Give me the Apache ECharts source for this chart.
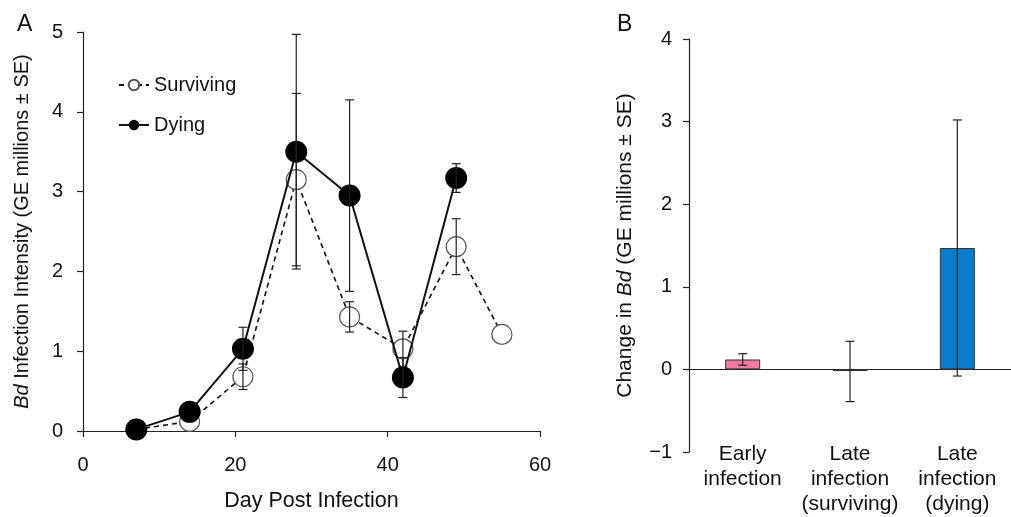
<!DOCTYPE html>
<html>
<head>
<meta charset="utf-8">
<script src="https://cdn.jsdelivr.net/npm/echarts@6/dist/echarts.min.js"></script>
<style>
	html, body { margin: 0; padding: 0; background: #fff; }
	#chart { width: 1011px; height: 517px; }
</style>
</head>
<body>
<div id="chart"></div>
<script>
	// panel A: infection intensity by day
	var days = [7, 14, 21, 28, 35, 42, 49, 55];
	var surviving = [0.02, 0.12, 0.68, 3.15, 1.43, 1.03, 2.31, 1.21];
	var survivingSE = [0, 0, 0.16, 1.08, 0.19, 0.22, 0.35, 0];
	var dyingDays = [7, 14, 21, 28, 35, 42, 49];
	var dying = [0.02, 0.24, 1.03, 3.50, 2.95, 0.67, 3.17];
	var dyingSE = [0, 0, 0.27, 1.47, 1.20, 0.25, 0.18];

	// panel B: change in Bd
	var groups = ['Early\ninfection', 'Late\ninfection\n(surviving)', 'Late\ninfection\n(dying)'];
	var change = [0.12, -0.02, 1.47];
	var changeLow = [0.05, -0.39, -0.08];
	var changeHigh = [0.19, 0.34, 3.02];
	var barColors = ['#f07aa3', '#1d6b45', '#0a7ccc'];

	var font = 'Liberation Sans, Arial, sans-serif';
	var ink = '#111';

	function pairs(xs, ys) {
		return xs.map(function(x, i) { return [x, ys[i]]; });
	}
	function errRows(xs, ys, se) {
		var out = [];
		xs.forEach(function(x, i) {
			if (se[i] > 0) out.push([x, ys[i] - se[i], ys[i] + se[i]]);
		});
		return out;
	}
	function errRender(params, api) {
		var x = api.value(0);
		var top = api.coord([x, api.value(2)]);
		var bot = api.coord([x, api.value(1)]);
		var w = 4.5;
		var st = { stroke: '#222', lineWidth: 1.2 };
		return {
			type: 'group',
			children: [
				{ type: 'line', shape: { x1: top[0], y1: top[1], x2: bot[0], y2: bot[1] }, style: st },
				{ type: 'line', shape: { x1: top[0] - w, y1: top[1], x2: top[0] + w, y2: top[1] }, style: st },
				{ type: 'line', shape: { x1: bot[0] - w, y1: bot[1], x2: bot[0] + w, y2: bot[1] }, style: st }
			]
		};
	}

	var lineSt = { color: '#222', width: 1.2 };
	var tickLabel = { fontSize: 20, color: ink, fontFamily: font };
	var italic = { fontStyle: 'italic', color: ink, fontFamily: font };

	var chart = echarts.init(document.getElementById('chart'));
	chart.setOption({
		animation: false,
		textStyle: { fontFamily: font },
		title: [
			{ text: 'A', left: 12, top: 8, textStyle: { fontSize: 23, fontWeight: 'normal', color: ink, fontFamily: font } },
			{ text: 'B', left: 612, top: 8, textStyle: { fontSize: 23, fontWeight: 'normal', color: ink, fontFamily: font } }
		],
		legend: {
			data: ['Surviving', 'Dying'],
			orient: 'vertical',
			left: 113,
			top: 70,
			itemGap: 20,
			itemWidth: 30,
			itemHeight: 13,
			textStyle: { fontSize: 20, color: ink, fontFamily: font }
		},
		grid: [
			{ left: 83, top: 32, width: 457, height: 401 },
			{ left: 689, top: 39, width: 333, height: 414 }
		],
		xAxis: [
			{
				gridIndex: 0, type: 'value', min: 0, max: 60, interval: 20,
				splitLine: { show: false },
				axisLine: { lineStyle: lineSt },
				axisTick: { length: 6, lineStyle: lineSt },
				axisLabel: Object.assign({ margin: 24 }, tickLabel),
				name: 'Day Post Infection', nameLocation: 'middle', nameGap: 59,
				nameTextStyle: { fontSize: 21.5, color: ink, fontFamily: font }
			},
			{
				gridIndex: 1, type: 'category', data: groups,
				axisLine: { onZero: true, lineStyle: lineSt },
				axisTick: { length: 6, lineStyle: lineSt },
				axisLabel: { show: false }
			},
			{
				gridIndex: 1, type: 'category', data: groups, position: 'bottom',
				axisLine: { show: false, onZero: false }, axisTick: { show: false },
				axisLabel: { interval: 0, fontSize: 21, color: ink, fontFamily: font, lineHeight: 25, margin: -10 }
			}
		],
		yAxis: [
			{
				gridIndex: 0, type: 'value', min: 0, max: 5, interval: 1,
				splitLine: { show: false },
				axisLine: { show: true, lineStyle: lineSt },
				axisTick: { show: true, length: 6, lineStyle: lineSt },
				axisLabel: Object.assign({ margin: 20 }, tickLabel),
				name: '{i|Bd} Infection Intensity (GE millions ± SE)', nameLocation: 'middle', nameGap: 51,
				nameTextStyle: {
					fontSize: 20, color: ink, fontFamily: font,
					rich: { i: Object.assign({ fontSize: 20 }, italic) }
				}
			},
			{
				gridIndex: 1, type: 'value', min: -1, max: 4, interval: 1,
				splitLine: { show: false },
				axisLine: { show: true, onZero: false, lineStyle: lineSt },
				axisTick: { show: true, length: 6, lineStyle: lineSt },
				axisLabel: Object.assign({ margin: 17, formatter: function(v) { return String(v).replace('-', '\u2212'); } }, tickLabel),
				name: 'Change in {i|Bd} (GE millions ± SE)', nameLocation: 'middle', nameGap: 53,
				nameTextStyle: {
					fontSize: 21, color: ink, fontFamily: font,
					rich: { i: Object.assign({ fontSize: 21 }, italic) }
				}
			}
		],
		series: [
			{
				name: 'Surviving', type: 'line', xAxisIndex: 0, yAxisIndex: 0,
				data: pairs(days, surviving),
				symbol: 'circle', symbolSize: 20,
				lineStyle: { color: '#111', width: 1.6, type: [5, 4] },
				itemStyle: { color: '#fff', borderColor: '#555', borderWidth: 1.2 },
				z: 3
			},
			{
				name: 'Dying', type: 'line', xAxisIndex: 0, yAxisIndex: 0,
				data: pairs(dyingDays, dying),
				symbol: 'circle', symbolSize: 22,
				lineStyle: { color: '#111', width: 2 },
				itemStyle: { color: '#000', borderColor: '#000', borderWidth: 0 },
				z: 4
			},
			{
				type: 'custom', xAxisIndex: 0, yAxisIndex: 0,
				data: errRows(days, surviving, survivingSE),
				renderItem: errRender, z: 5, silent: true
			},
			{
				type: 'custom', xAxisIndex: 0, yAxisIndex: 0,
				data: errRows(dyingDays, dying, dyingSE),
				renderItem: errRender, z: 5, silent: true
			},
			{
				type: 'bar', xAxisIndex: 1, yAxisIndex: 1,
				data: change.map(function(v, i) {
					return { value: v, itemStyle: { color: barColors[i] } };
				}),
				barWidth: 35,
				itemStyle: { borderColor: '#333', borderWidth: 1 }
			},
			{
				type: 'custom', xAxisIndex: 1, yAxisIndex: 1,
				data: groups.map(function(g, i) { return [i, changeLow[i], changeHigh[i]]; }),
				renderItem: errRender, z: 5, silent: true
			}
		]
	});
</script>
</body>
</html>
